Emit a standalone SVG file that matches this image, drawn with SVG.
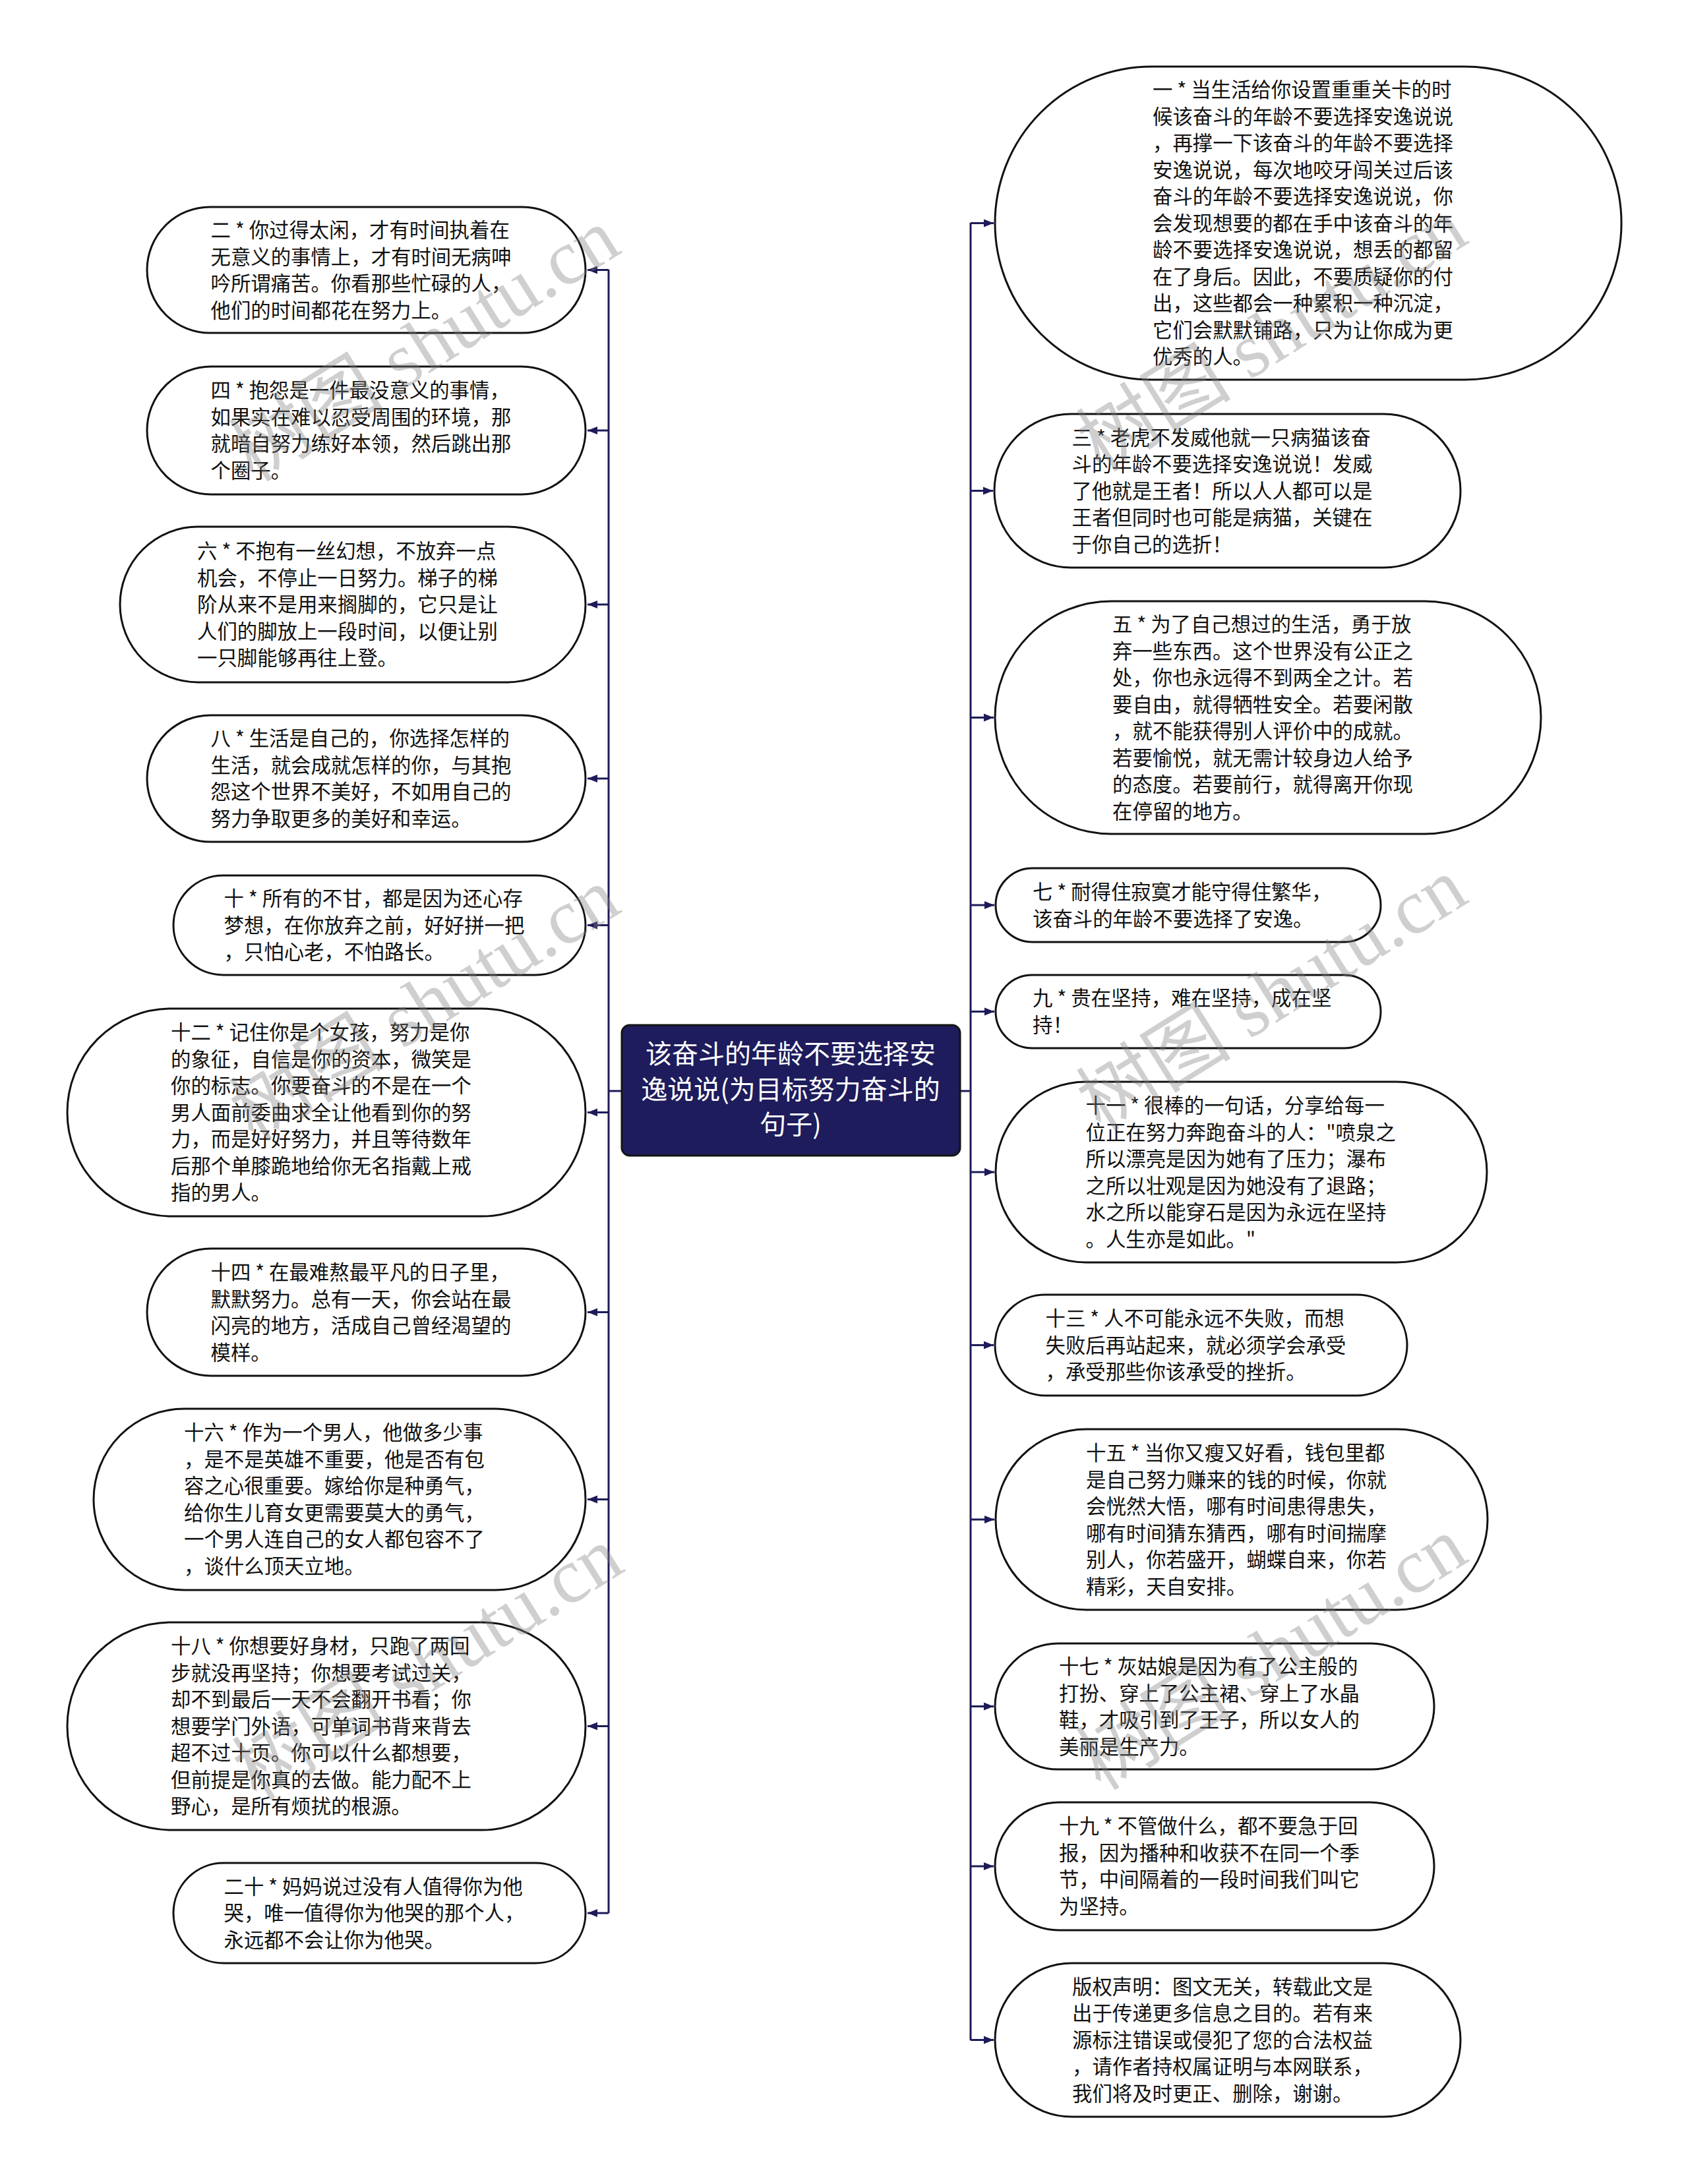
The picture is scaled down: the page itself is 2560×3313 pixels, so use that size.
<svg xmlns="http://www.w3.org/2000/svg" width="2560" height="3313" viewBox="0 0 2560 3313">
<style>
.node{fill:#fff;stroke:#111;stroke-width:3}
.t{font-family:"Noto Sans CJK SC","Noto Sans",sans-serif;font-size:30.4px;fill:#111}
.conn{fill:none;stroke:#1e1b5a;stroke-width:3}
.root{fill:#1e1c5c;stroke:#151515;stroke-width:3}
.rt{font-family:"Noto Sans CJK SC","Noto Sans",sans-serif;font-size:40px;fill:#fff;text-anchor:middle}
.wm{font-family:"Liberation Serif","Noto Sans CJK SC",serif;font-size:118px;fill:#808080;fill-opacity:0.38;text-anchor:middle}
</style>
<defs>
<marker id="ah" markerUnits="userSpaceOnUse" markerWidth="16" markerHeight="14" refX="15" refY="7" orient="auto">
<path d="M0,1 L15,7 L0,13 z" fill="#1e1b5a"/>
</marker>
</defs>
<rect width="2560" height="3313" fill="#fff"/>
<g id="connectors">
<path class="conn" d="M943,1655 H923 M923,409 V2902"/>
<path class="conn" d="M1456,1655 H1472 M1472,338 V3095"/>
<path class="conn" marker-end="url(#ah)" d="M923,409.5 H891"/>
<path class="conn" marker-end="url(#ah)" d="M923,653 H891"/>
<path class="conn" marker-end="url(#ah)" d="M923,917 H891"/>
<path class="conn" marker-end="url(#ah)" d="M923,1181 H891"/>
<path class="conn" marker-end="url(#ah)" d="M923,1403.5 H891"/>
<path class="conn" marker-end="url(#ah)" d="M923,1687.5 H891"/>
<path class="conn" marker-end="url(#ah)" d="M923,1990.5 H891"/>
<path class="conn" marker-end="url(#ah)" d="M923,2274.5 H891"/>
<path class="conn" marker-end="url(#ah)" d="M923,2618.5 H891"/>
<path class="conn" marker-end="url(#ah)" d="M923,2902 H891"/>
<path class="conn" marker-end="url(#ah)" d="M1472,338.5 H1507"/>
<path class="conn" marker-end="url(#ah)" d="M1472,744.5 H1506"/>
<path class="conn" marker-end="url(#ah)" d="M1472,1088.5 H1507"/>
<path class="conn" marker-end="url(#ah)" d="M1472,1373 H1508"/>
<path class="conn" marker-end="url(#ah)" d="M1472,1534.5 H1508"/>
<path class="conn" marker-end="url(#ah)" d="M1472,1778 H1508"/>
<path class="conn" marker-end="url(#ah)" d="M1472,2040.5 H1507"/>
<path class="conn" marker-end="url(#ah)" d="M1472,2305 H1508"/>
<path class="conn" marker-end="url(#ah)" d="M1472,2588.5 H1507"/>
<path class="conn" marker-end="url(#ah)" d="M1472,2831 H1507"/>
<path class="conn" marker-end="url(#ah)" d="M1472,3094.5 H1507"/>
</g>
<g id="root">
<rect class="root" x="943" y="1555" width="513" height="198" rx="12"/>
<text class="rt"><tspan x="1199" y="1613">该奋斗的年龄不要选择安</tspan><tspan x="1199" y="1667">逸说说(为目标努力奋斗的</tspan><tspan x="1199" y="1720">句子)</tspan></text>
</g>
<g id="n2">
<rect class="node" x="223" y="314" width="665" height="191" rx="95.5"/>
<text class="t"><tspan x="319.5" y="360">二 * 你过得太闲，才有时间执着在</tspan><tspan x="319.5" dy="40.5">无意义的事情上，才有时间无病呻</tspan><tspan x="319.5" dy="40.5">吟所谓痛苦。你看那些忙碌的人，</tspan><tspan x="319.5" dy="40.5">他们的时间都花在努力上。</tspan></text>
</g>
<g id="n4">
<rect class="node" x="223" y="556" width="665" height="194" rx="97"/>
<text class="t"><tspan x="319.5" y="603">四 * 抱怨是一件最没意义的事情，</tspan><tspan x="319.5" dy="40.5">如果实在难以忍受周围的环境，那</tspan><tspan x="319.5" dy="40.5">就暗自努力练好本领，然后跳出那</tspan><tspan x="319.5" dy="40.5">个圈子。</tspan></text>
</g>
<g id="n6">
<rect class="node" x="182" y="799" width="706" height="236" rx="118"/>
<text class="t"><tspan x="299" y="847">六 * 不抱有一丝幻想，不放弃一点</tspan><tspan x="299" dy="40.5">机会，不停止一日努力。梯子的梯</tspan><tspan x="299" dy="40.5">阶从来不是用来搁脚的，它只是让</tspan><tspan x="299" dy="40.5">人们的脚放上一段时间，以便让别</tspan><tspan x="299" dy="40.5">一只脚能够再往上登。</tspan></text>
</g>
<g id="n8">
<rect class="node" x="223" y="1085" width="665" height="192" rx="96"/>
<text class="t"><tspan x="319.5" y="1131">八 * 生活是自己的，你选择怎样的</tspan><tspan x="319.5" dy="40.5">生活，就会成就怎样的你，与其抱</tspan><tspan x="319.5" dy="40.5">怨这个世界不美好，不如用自己的</tspan><tspan x="319.5" dy="40.5">努力争取更多的美好和幸运。</tspan></text>
</g>
<g id="n10">
<rect class="node" x="263" y="1328" width="625" height="151" rx="75.5"/>
<text class="t"><tspan x="339.5" y="1374">十 * 所有的不甘，都是因为还心存</tspan><tspan x="339.5" dy="40.5">梦想，在你放弃之前，好好拼一把</tspan><tspan x="339.5" dy="40.5">，只怕心老，不怕路长。</tspan></text>
</g>
<g id="n12">
<rect class="node" x="102" y="1530" width="786" height="315" rx="157.5"/>
<text class="t"><tspan x="259" y="1577">十二 * 记住你是个女孩，努力是你</tspan><tspan x="259" dy="40.5">的象征，自信是你的资本，微笑是</tspan><tspan x="259" dy="40.5">你的标志。你要奋斗的不是在一个</tspan><tspan x="259" dy="40.5">男人面前委曲求全让他看到你的努</tspan><tspan x="259" dy="40.5">力，而是好好努力，并且等待数年</tspan><tspan x="259" dy="40.5">后那个单膝跪地给你无名指戴上戒</tspan><tspan x="259" dy="40.5">指的男人。</tspan></text>
</g>
<g id="n14">
<rect class="node" x="223" y="1894" width="665" height="193" rx="96.5"/>
<text class="t"><tspan x="319.5" y="1941">十四 * 在最难熬最平凡的日子里，</tspan><tspan x="319.5" dy="40.5">默默努力。总有一天，你会站在最</tspan><tspan x="319.5" dy="40.5">闪亮的地方，活成自己曾经渴望的</tspan><tspan x="319.5" dy="40.5">模样。</tspan></text>
</g>
<g id="n16">
<rect class="node" x="142" y="2137" width="746" height="275" rx="137.5"/>
<text class="t"><tspan x="279" y="2184">十六 * 作为一个男人，他做多少事</tspan><tspan x="279" dy="40.5">，是不是英雄不重要，他是否有包</tspan><tspan x="279" dy="40.5">容之心很重要。嫁给你是种勇气，</tspan><tspan x="279" dy="40.5">给你生儿育女更需要莫大的勇气，</tspan><tspan x="279" dy="40.5">一个男人连自己的女人都包容不了</tspan><tspan x="279" dy="40.5">，谈什么顶天立地。</tspan></text>
</g>
<g id="n18">
<rect class="node" x="102" y="2461" width="786" height="315" rx="157.5"/>
<text class="t"><tspan x="259" y="2508">十八 * 你想要好身材，只跑了两回</tspan><tspan x="259" dy="40.5">步就没再坚持；你想要考试过关，</tspan><tspan x="259" dy="40.5">却不到最后一天不会翻开书看；你</tspan><tspan x="259" dy="40.5">想要学门外语，可单词书背来背去</tspan><tspan x="259" dy="40.5">超不过十页。你可以什么都想要，</tspan><tspan x="259" dy="40.5">但前提是你真的去做。能力配不上</tspan><tspan x="259" dy="40.5">野心，是所有烦扰的根源。</tspan></text>
</g>
<g id="n20">
<rect class="node" x="263" y="2826" width="625" height="152" rx="76"/>
<text class="t"><tspan x="339.5" y="2872.5">二十 * 妈妈说过没有人值得你为他</tspan><tspan x="339.5" dy="40.5">哭，唯一值得你为他哭的那个人，</tspan><tspan x="339.5" dy="40.5">永远都不会让你为他哭。</tspan></text>
</g>
<g id="n1">
<rect class="node" x="1509" y="101" width="950" height="475" rx="237.5"/>
<text class="t"><tspan x="1748" y="147">一 * 当生活给你设置重重关卡的时</tspan><tspan x="1748" dy="40.5">候该奋斗的年龄不要选择安逸说说</tspan><tspan x="1748" dy="40.5">，再撑一下该奋斗的年龄不要选择</tspan><tspan x="1748" dy="40.5">安逸说说，每次地咬牙闯关过后该</tspan><tspan x="1748" dy="40.5">奋斗的年龄不要选择安逸说说，你</tspan><tspan x="1748" dy="40.5">会发现想要的都在手中该奋斗的年</tspan><tspan x="1748" dy="40.5">龄不要选择安逸说说，想丢的都留</tspan><tspan x="1748" dy="40.5">在了身后。因此，不要质疑你的付</tspan><tspan x="1748" dy="40.5">出，这些都会一种累积一种沉淀，</tspan><tspan x="1748" dy="40.5">它们会默默铺路，只为让你成为更</tspan><tspan x="1748" dy="40.5">优秀的人。</tspan></text>
</g>
<g id="n3">
<rect class="node" x="1508" y="628" width="707" height="233" rx="116.5"/>
<text class="t"><tspan x="1625.5" y="674.5">三 * 老虎不发威他就一只病猫该奋</tspan><tspan x="1625.5" dy="40.5">斗的年龄不要选择安逸说说！发威</tspan><tspan x="1625.5" dy="40.5">了他就是王者！所以人人都可以是</tspan><tspan x="1625.5" dy="40.5">王者但同时也可能是病猫，关键在</tspan><tspan x="1625.5" dy="40.5">于你自己的选折！</tspan></text>
</g>
<g id="n5">
<rect class="node" x="1509" y="912" width="828" height="353" rx="176.5"/>
<text class="t"><tspan x="1687" y="958">五 * 为了自己想过的生活，勇于放</tspan><tspan x="1687" dy="40.5">弃一些东西。这个世界没有公正之</tspan><tspan x="1687" dy="40.5">处，你也永远得不到两全之计。若</tspan><tspan x="1687" dy="40.5">要自由，就得牺牲安全。若要闲散</tspan><tspan x="1687" dy="40.5">，就不能获得别人评价中的成就。</tspan><tspan x="1687" dy="40.5">若要愉悦，就无需计较身边人给予</tspan><tspan x="1687" dy="40.5">的态度。若要前行，就得离开你现</tspan><tspan x="1687" dy="40.5">在停留的地方。</tspan></text>
</g>
<g id="n7">
<rect class="node" x="1510" y="1317" width="584" height="112" rx="56"/>
<text class="t"><tspan x="1566" y="1364">七 * 耐得住寂寞才能守得住繁华，</tspan><tspan x="1566" dy="40.5">该奋斗的年龄不要选择了安逸。</tspan></text>
</g>
<g id="n9">
<rect class="node" x="1510" y="1479" width="584" height="111" rx="55.5"/>
<text class="t"><tspan x="1566" y="1525">九 * 贵在坚持，难在坚持，成在坚</tspan><tspan x="1566" dy="40.5">持！</tspan></text>
</g>
<g id="n11">
<rect class="node" x="1510" y="1641" width="745" height="274" rx="137"/>
<text class="t"><tspan x="1646.5" y="1688">十一 * 很棒的一句话，分享给每一</tspan><tspan x="1646.5" dy="40.5">位正在努力奔跑奋斗的人："喷泉之</tspan><tspan x="1646.5" dy="40.5">所以漂亮是因为她有了压力；瀑布</tspan><tspan x="1646.5" dy="40.5">之所以壮观是因为她没有了退路；</tspan><tspan x="1646.5" dy="40.5">水之所以能穿石是因为永远在坚持</tspan><tspan x="1646.5" dy="40.5">。人生亦是如此。"</tspan></text>
</g>
<g id="n13">
<rect class="node" x="1509" y="1964" width="625" height="153" rx="76.5"/>
<text class="t"><tspan x="1585.5" y="2011">十三 * 人不可能永远不失败，而想</tspan><tspan x="1585.5" dy="40.5">失败后再站起来，就必须学会承受</tspan><tspan x="1585.5" dy="40.5">，承受那些你该承受的挫折。</tspan></text>
</g>
<g id="n15">
<rect class="node" x="1510" y="2168" width="746" height="274" rx="137"/>
<text class="t"><tspan x="1647" y="2215">十五 * 当你又瘦又好看，钱包里都</tspan><tspan x="1647" dy="40.5">是自己努力赚来的钱的时候，你就</tspan><tspan x="1647" dy="40.5">会恍然大悟，哪有时间患得患失，</tspan><tspan x="1647" dy="40.5">哪有时间猜东猜西，哪有时间揣摩</tspan><tspan x="1647" dy="40.5">别人，你若盛开，蝴蝶自来，你若</tspan><tspan x="1647" dy="40.5">精彩，天自安排。</tspan></text>
</g>
<g id="n17">
<rect class="node" x="1509" y="2493" width="666" height="191" rx="95.5"/>
<text class="t"><tspan x="1606" y="2539">十七 * 灰姑娘是因为有了公主般的</tspan><tspan x="1606" dy="40.5">打扮、穿上了公主裙、穿上了水晶</tspan><tspan x="1606" dy="40.5">鞋，才吸引到了王子，所以女人的</tspan><tspan x="1606" dy="40.5">美丽是生产力。</tspan></text>
</g>
<g id="n19">
<rect class="node" x="1509" y="2734" width="666" height="194" rx="97"/>
<text class="t"><tspan x="1606" y="2781">十九 * 不管做什么，都不要急于回</tspan><tspan x="1606" dy="40.5">报，因为播种和收获不在同一个季</tspan><tspan x="1606" dy="40.5">节，中间隔着的一段时间我们叫它</tspan><tspan x="1606" dy="40.5">为坚持。</tspan></text>
</g>
<g id="n21">
<rect class="node" x="1509" y="2978" width="706" height="233" rx="116.5"/>
<text class="t"><tspan x="1626" y="3024.5">版权声明：图文无关，转载此文是</tspan><tspan x="1626" dy="40.5">出于传递更多信息之目的。若有来</tspan><tspan x="1626" dy="40.5">源标注错误或侵犯了您的合法权益</tspan><tspan x="1626" dy="40.5">，请作者持权属证明与本网联系，</tspan><tspan x="1626" dy="40.5">我们将及时更正、删除，谢谢。</tspan></text>
</g>
<g id="watermarks">
<text class="wm" transform="translate(645,525) rotate(-32)" y="38">树图 shutu.cn</text>
<text class="wm" transform="translate(1930,510) rotate(-32)" y="38">树图 shutu.cn</text>
<text class="wm" transform="translate(645,1525) rotate(-32)" y="38">树图 shutu.cn</text>
<text class="wm" transform="translate(1930,1510) rotate(-32)" y="38">树图 shutu.cn</text>
<text class="wm" transform="translate(650,2525) rotate(-32)" y="38">树图 shutu.cn</text>
<text class="wm" transform="translate(1930,2510) rotate(-32)" y="38">树图 shutu.cn</text>
</g>
</svg>
